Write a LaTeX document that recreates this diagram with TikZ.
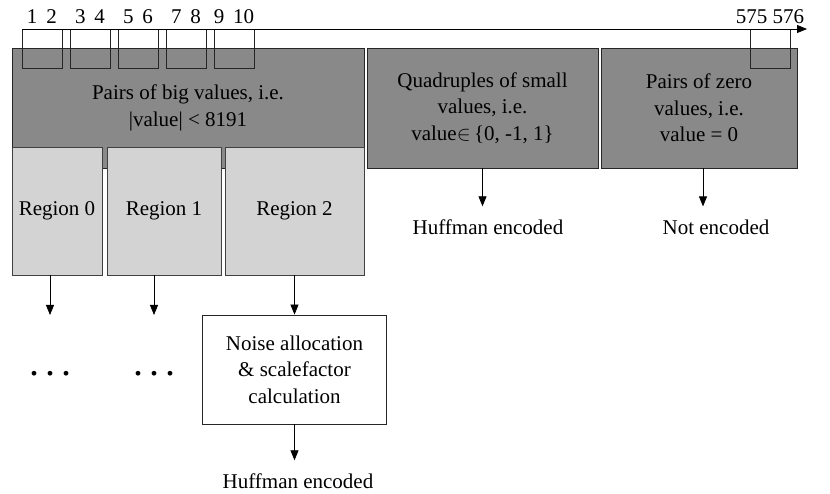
\documentclass[tikz,border=0pt]{standalone}
\usepackage{fontspec}
\setmainfont{Liberation Serif}
\usepackage{tikz}
\usetikzlibrary{arrows.meta}
\definecolor{bigfill}{RGB}{137,137,137}
\definecolor{regfill}{RGB}{211,211,211}
\tikzset{
  valbox/.style={draw=black!85, fill=bigfill, line width=0.8pt, align=center, inner sep=0pt},
  regbox/.style={draw=black!75, fill=regfill, line width=0.8pt, align=center, inner sep=0pt, minimum height=128pt},
  procbox/.style={draw=black!85, fill=white, line width=0.8pt, align=center, inner sep=0pt},
  outlbl/.style={inner xsep=0pt, inner ysep=13pt},
  numlbl/.style={anchor=base, inner sep=0pt},
  dotlbl/.style={inner sep=0pt, font=\fontsize{40}{40}\selectfont},
  pairline/.style={draw=black!85, line width=0.7pt},
  arr/.style={line width=0.8pt, -{Triangle[length=10pt,width=8pt]}},
}
\newcommand{\pairbox}[3]{ \draw[pairline] ( #1 , 29 ) rectangle ( #1 + 40 , 68 ); \node[numlbl] (lbl#2) at ( #1 + 20 , 24 ) {#2\hspace{9pt}#3};}
\newcommand{\lastpairbox}[3]{ \draw[pairline] ( #1 , 29 ) rectangle ( #1 + 40 , 68 ); \node[numlbl] (lbl#2) at ( #1 + 20 , 24 ) {#2 #3};}

\begin{document}
\begin{tikzpicture}[x=1pt, y=-1pt, font=\fontsize{21}{26.5}\selectfont]
        \useasboundingbox (0,0) rectangle (830,494);

        % value classes
        \node[valbox, minimum width=352pt, minimum height=120pt] (big) at (188,108) {Pairs of big values, i.e.\\|value| < 8191};
        \node[valbox, minimum width=231pt, minimum height=120pt] (quad) at (482.5,108) {Quadruples of small\\values, i.e.\\value$\in$\,\{0, -1, 1\}};
        \node[valbox, minimum width=196pt, minimum height=120pt] (zero) at (699,108) {Pairs of zero\\values, i.e.\\value = 0};

        % regions
        \node[regbox, minimum width=90pt] (reg0) at (57,211) {Region 0};
        \node[regbox, minimum width=114pt] (reg1) at (164,211) {Region 1};
        \node[regbox, minimum width=139pt] (reg2) at (294.5,211) {Region 2};

        \node[procbox, minimum width=184pt, minimum height=109pt] (noise) at (294.5,369.5) {Noise allocation\\\& scalefactor\\calculation};

        % spectrum
        \pairbox{22}{1}{2}
        \pairbox{70}{3}{4}
        \pairbox{118}{5}{6}
        \pairbox{166}{7}{8}
        \pairbox{214}{9}{10}
        \lastpairbox{750}{575}{576}

        \coordinate (axstart) at (22,29);
        \coordinate (axend) at (807,29);
        \draw[arr] (axstart) -- (axend);

        % outputs
        \node[outlbl] (huffA) at (488,227) {Huffman encoded};
        \node[outlbl] (notenc) at (716,227) {Not encoded};
        \node[outlbl] (huffB) at (298,481) {Huffman encoded};
        \node[dotlbl] (dots0) at (50,374) {.\hspace{6pt}.\hspace{6pt}.};
        \node[dotlbl] (dots1) at (154,374) {.\hspace{6pt}.\hspace{6pt}.};

        \draw[arr] (quad.south) -- (quad.south |- huffA.north);
        \draw[arr] ([xshift=4pt]zero.south) -- ([xshift=4pt]zero.south |- notenc.north);
        \draw[arr] (reg0.south -| dots0) -- ([yshift=59pt]dots0.center);
        \draw[arr] (reg1.south -| dots1) -- ([yshift=59pt]dots1.center);
        \draw[arr] (reg2.south) -- (noise.north);
        \draw[arr] (noise.south) -- (noise.south |- huffB.north);

\end{tikzpicture}
\end{document}
